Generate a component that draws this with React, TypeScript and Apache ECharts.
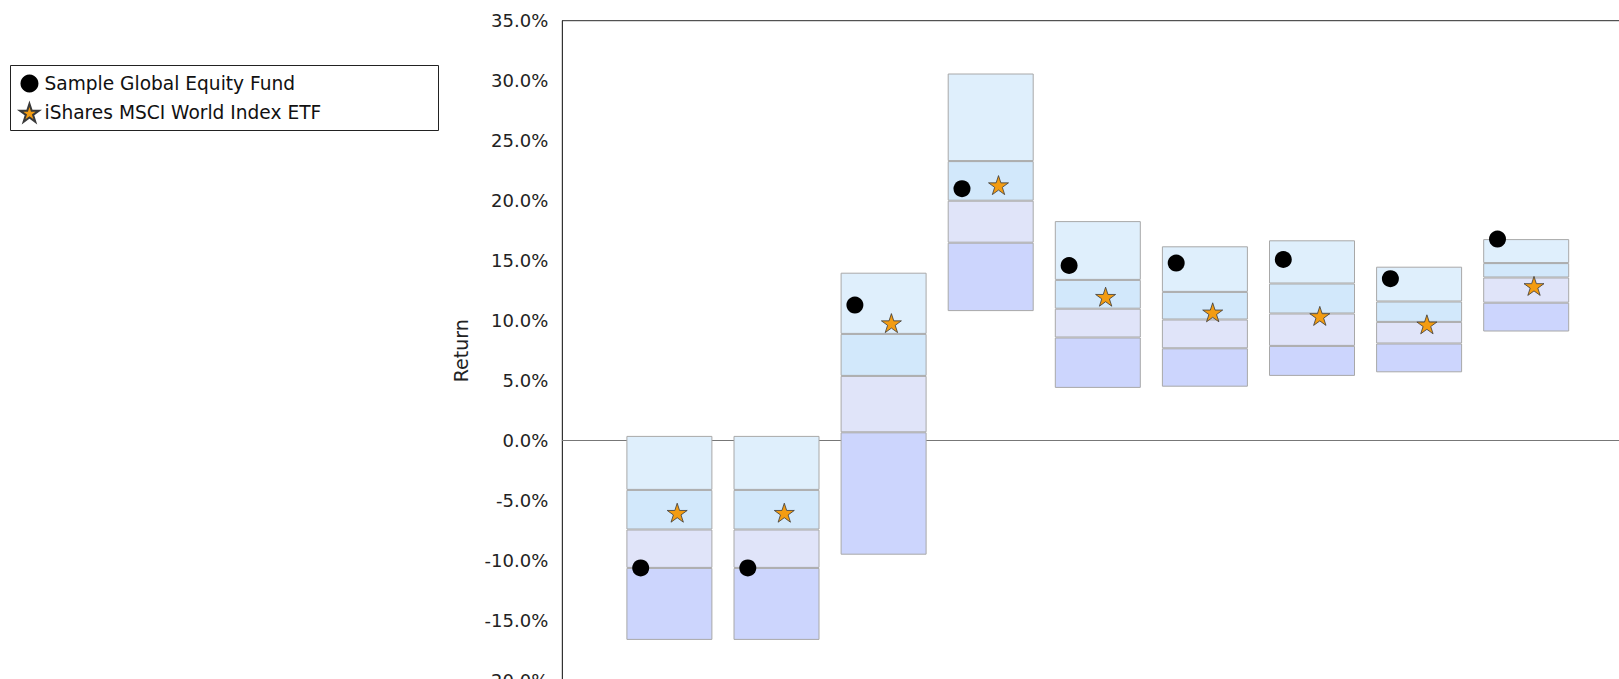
import React, { useEffect, useRef } from "react";
import * as echarts from "echarts";

const categories = ["YTD", "1 Month", "3 Months", "6 Months", "1 Year", "2 Years", "3 Years", "4 Years", "5 Years"];
const yTicksMin = -20;
const yTicksMax = 35;
const yTickStep = 5;

// quartile boundaries (%)
const lowValues = [-16.6, -16.6, -9.5, 10.8, 4.4, 4.5, 5.4, 5.7, 9.1];
const q1Values = [-10.6, -10.6, 0.7, 16.5, 8.6, 7.7, 7.9, 8.1, 11.5];
const medianValues = [-7.4, -7.4, 5.4, 20.0, 11.0, 10.1, 10.6, 9.9, 13.6];
const q3Values = [-4.1, -4.1, 8.9, 23.3, 13.4, 12.4, 13.1, 11.6, 14.8];
const highValues = [0.4, 0.4, 14.0, 30.6, 18.3, 16.2, 16.7, 14.5, 16.8];

const fundName = "Sample Global Equity Fund";
const etfName = "iShares MSCI World Index ETF";
const fundValues = [-10.6, -10.6, 11.3, 21.0, 14.6, 14.8, 15.1, 13.5, 16.8];
const etfValues = [-6.0, -6.0, 9.8, 21.3, 12.0, 10.7, 10.4, 9.7, 12.9];

const STAR =
  "path://M0,-100 L22.45,-30.9 L95.1,-30.9 L36.33,11.8 L58.8,80.9 L0,38.2 L-58.8,80.9 L-36.33,11.8 L-95.1,-30.9 L-22.45,-30.9 Z";

const FONT = "DejaVu Sans";

export default function App() {
  const ref = useRef<HTMLDivElement>(null);
  useEffect(() => {
    if (!ref.current) return;
    const chart = echarts.init(ref.current, undefined, { renderer: "svg" });
    const pad = (arr: (number | string)[]) => ["-", ...arr, "-"];
    const cats = ["", ...categories, ""];
    const diff = (a: number[], b: number[]) => a.map((v, i) => +(v - b[i]).toFixed(2));
    const bandColors = ["#ccd5fd", "#e0e4f9", "#d2e8fb", "#dfeffc"];
    const bands = [
      diff(q1Values, lowValues),
      diff(medianValues, q1Values),
      diff(q3Values, medianValues),
      diff(highValues, q3Values),
    ];
    const barCommon = {
      type: "bar" as const,
      stack: "q",
      stackStrategy: "all",
      barWidth: 86,
      silent: true,
      xAxisIndex: 0,
    };
    const series: any[] = [
      {
        ...barCommon,
        name: "base",
        data: pad(lowValues),
        itemStyle: { color: "rgba(0,0,0,0)", borderWidth: 0 },
      },
      ...bands.map((b, i) => ({
        ...barCommon,
        name: "band" + i,
        data: pad(b),
        itemStyle: { color: bandColors[i], borderColor: "#a8a8a8", borderWidth: 1 },
      })),
      {
        type: "scatter",
        name: fundName,
        data: pad(fundValues),
        symbol: "circle",
        symbolSize: 17,
        symbolOffset: [-28.7, 0],
        itemStyle: { color: "#000", opacity: 1 },
        z: 5,
      },
      {
        type: "scatter",
        name: etfName,
        data: pad(etfValues),
        symbol: STAR,
        symbolSize: [20, 19],
        symbolOffset: [7.8, 0],
        itemStyle: { color: "#f39c12", borderColor: "#3a3a3a", borderWidth: 0.8, opacity: 1 },
        z: 6,
      },
    ];
    chart.setOption({
      animation: false,
      grid: {
        left: 562.3,
        top: 20.7,
        width: 1071,
        height: 660,
        show: true,
        borderColor: "#2a2a2a",
        borderWidth: 1,
        backgroundColor: "transparent",
      },
      legend: {
        orient: "vertical",
        left: 19,
        top: 74,
        padding: 0,
        itemWidth: 20,
        itemHeight: 18,
        itemGap: 9.8,
        textStyle: { fontFamily: FONT, fontSize: 18.6, color: "#111", lineHeight: 18.6 },
        data: [
          { name: fundName, icon: "circle" },
          { name: etfName, icon: STAR },
        ],
      },
      graphic: [
        {
          type: "rect",
          shape: { x: 10.5, y: 65.5, width: 428, height: 65 },
          style: { fill: "#fff", stroke: "#222", lineWidth: 1 },
          z: 0,
          silent: true,
        },
      ],
      xAxis: [
        {
          type: "category",
          data: cats,
          boundaryGap: false,
          position: "bottom",
          axisLine: { show: false, onZero: false },
          axisTick: { show: false },
          axisLabel: { fontFamily: FONT, fontSize: 18, color: "#222" },
          splitLine: { show: false },
        },
        {
          type: "category",
          data: cats,
          boundaryGap: false,
          position: "bottom",
          axisLine: { show: true, onZero: true, lineStyle: { color: "#777", width: 1 } },
          axisTick: { show: false },
          axisLabel: { show: false },
          splitLine: { show: false },
        },
      ],
      yAxis: {
        type: "value",
        min: yTicksMin,
        max: yTicksMax,
        interval: yTickStep,
        name: "Return",
        nameLocation: "middle",
        nameGap: 92,
        nameTextStyle: { fontFamily: FONT, fontSize: 19, color: "#222" },
        axisLine: { show: true, lineStyle: { color: "#333", width: 1 } },
        axisTick: { show: false },
        splitLine: { show: false },
        axisLabel: {
          fontFamily: FONT,
          fontSize: 18,
          color: "#222",
          margin: 14,
          padding: [0, 0, 4, 0],
          formatter: (v: number) => v.toFixed(1) + "%",
        },
      },
      tooltip: { show: false },
      series,
    });
    return () => chart.dispose();
  }, []);
  return (
    <div
      style={{
        position: "fixed",
        left: 0,
        top: 0,
        width: 1619,
        height: 679,
        overflow: "hidden",
        background: "#fff",
      }}
    >
      <div ref={ref} style={{ width: 1700, height: 760 }} />
    </div>
  );
}
